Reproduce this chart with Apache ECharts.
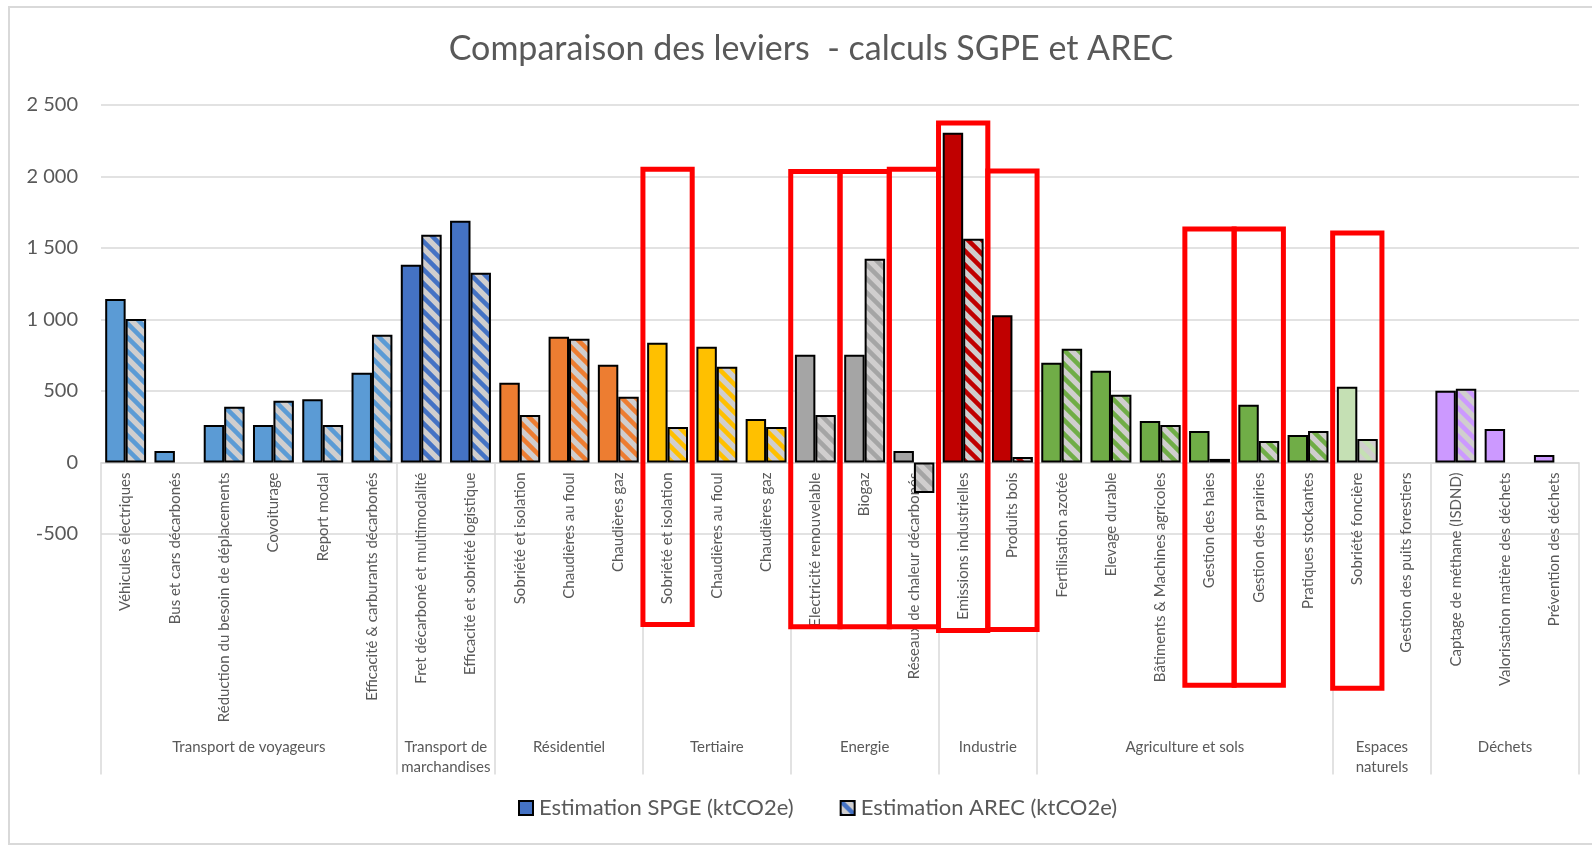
<!DOCTYPE html>
<html>
<head>
<meta charset="utf-8">
<title>Comparaison des leviers - calculs SGPE et AREC</title>
<script src="https://cdn.jsdelivr.net/npm/echarts@6/dist/echarts.min.js"></script>
<style>
  html, body { margin: 0; padding: 0; background: #fff; overflow: hidden; }
  .wrapper { position: relative; width: 1592px; height: 845px; }
  .wrapper .chart { width: 100%; height: 100%; }
  .wrapper .frame {
    position: absolute; left: 8px; top: 6px; right: 0; bottom: 0;
    border: 2px solid #d9d9d9; border-right: none; pointer-events: none;
  }
</style>
</head>
<body>
<div class="wrapper">
  <div id="chart" class="chart"></div>
  <div class="frame"></div>
</div>
<script>
// groupes (niveau 2 de l'axe) et nombre de leviers dans chaque groupe
const groupNames = ['Transport de voyageurs', 'Transport de\nmarchandises', 'Résidentiel', 'Tertiaire',
  'Energie', 'Industrie', 'Agriculture et sols', 'Espaces\nnaturels', 'Déchets'];
const groupSizes = [6, 2, 3, 3, 3, 2, 6, 2, 3];

// leviers (niveau 1 de l'axe)
const levers = [
  'Véhicules électriques', 'Bus et cars décarbonés', 'Réduction du besoin de déplacements', 'Covoiturage',
  'Report modal', 'Efficacité & carburants décarbonés',
  'Fret décarboné et multimodalité', 'Efficacité et sobriété logistique',
  'Sobriété et isolation', 'Chaudières au fioul', 'Chaudières gaz',
  'Sobriété et isolation', 'Chaudières au fioul', 'Chaudières gaz',
  'Electricité renouvelable', 'Biogaz', 'Réseaux de chaleur décarbonés',
  'Emissions industrielles', 'Produits bois',
  'Fertilisation azotée', 'Elevage durable', 'Bâtiments & Machines agricoles', 'Gestion des haies',
  'Gestion des prairies', 'Pratiques stockantes',
  'Sobriété foncière', 'Gestion des puits forestiers',
  'Captage de méthane (ISDND)', 'Valorisation matière des déchets', 'Prévention des déchets'
];

// ktCO2e
const spge = [1143, 81, 263, 263, 443, 627, 1383, 1691, 557, 879, 683, 837, 809, 305, 753, 753, 81,
  2306, 1029, 697, 641, 291, 221, 403, 193, 529, null, 501, 235, 53];
const arec = [1003, null, 389, 431, 263, 893, 1593, 1327, 333, 865, 459, 249, 669, 249, 333, 1425, -213,
  1565, 39, 795, 473, 263, 25, 151, 221, 165, null, 515, null, null];

// cadres rouges : index du levier, haut et bas du cadre (en ktCO2e)
const boxLevers = [11, 14, 15, 16, 17, 18, 22, 23, 25];
const boxTop = [2050, 2035, 2035, 2050, 2374, 2038, 1633, 1633, 1605];
const boxBottom = [-1132, -1149, -1149, -1149, -1174, -1167, -1558, -1558, -1579];

const groupColors = ['#5B9BD5', '#4472C4', '#ED7D31', '#FFC000', '#A5A5A5', '#C00000', '#70AD47', '#C5E0B4', '#CC99FF'];
const textColor = '#595959';
const lineColor = '#d9d9d9';
const font = 'Lato';

// groupe de chaque levier, limites et centres des groupes
const leverGroup = [];
const groupBounds = [0];
const groupCenters = [];
groupSizes.forEach((n, g) => {
  const start = groupBounds[groupBounds.length - 1];
  for (let i = 0; i < n; i++) leverGroup.push(g);
  groupBounds.push(start + n);
  groupCenters.push(start + n / 2);
});

// motif hachuré (gris + diagonales de la couleur du groupe)
function hatch(color) {
  const s = 14;
  const c = document.createElement('canvas');
  c.width = c.height = s;
  const g = c.getContext('2d');
  g.fillStyle = '#D0CECE';
  g.fillRect(0, 0, s, s);
  g.strokeStyle = color;
  g.lineWidth = 4.5;
  for (let k = -1; k <= 1; k++) {
    g.beginPath();
    g.moveTo(k * s - 2, -2);
    g.lineTo(k * s + s + 2, s + 2);
    g.stroke();
  }
  return { image: c, repeat: 'repeat' };
}

function fmt(v) {
  return String(v).replace(/\B(?=(\d{3})+(?!\d))/g, ' ');
}

const chart = echarts.init(document.getElementById('chart'));

chart.setOption({
  animation: false,
  backgroundColor: '#fff',
  title: {
    text: 'Comparaison des leviers  - calculs SGPE et AREC',
    left: 806,
    textAlign: 'center',
    top: 27,
    textStyle: { color: textColor, fontSize: 34, fontWeight: 'normal', fontFamily: font },
  },
  legend: {
    left: 518,
    top: 797,
    padding: 0,
    icon: 'rect',
    itemWidth: 14,
    itemHeight: 14,
    itemGap: 46,
    textStyle: { color: textColor, fontSize: 22, fontFamily: font, padding: [0, 0, 0, 1] },
  },
  grid: {
    left: 101,
    right: 13,
    top: 105,
    bottom: 311,
    outerBoundsMode: 'none',
  },
  xAxis: [
    {
      type: 'category',
      data: levers,
      axisLine: { onZero: false, lineStyle: { color: lineColor, width: 1.5 } },
      axisTick: { show: false },
      splitLine: { show: false },
      axisLabel: {
        interval: 0,
        rotate: 90,
        margin: 10,
        color: textColor,
        fontSize: 15,
        fontFamily: font,
      },
    },
    {
      // niveau des groupes
      type: 'value',
      min: 0,
      max: groupBounds[groupBounds.length - 1],
      position: 'bottom',
      axisLine: { show: false, onZero: false },
      splitLine: { show: false },
      axisTick: {
        show: true,
        customValues: groupBounds,
        length: 312,
        lineStyle: { color: lineColor, width: 1.5 },
      },
      axisLabel: {
        customValues: groupCenters,
        formatter: (v) => groupNames[groupCenters.indexOf(v)] || '',
        margin: 275,
        color: textColor,
        fontSize: 15,
        lineHeight: 20,
        fontFamily: font,
      },
    },
  ],
  yAxis: {
    type: 'value',
    min: -500,
    max: 2500,
    interval: 500,
    axisLine: { show: false, onZero: false },
    axisTick: { show: false },
    splitLine: { lineStyle: { color: lineColor, width: 1.5 } },
    axisLabel: { formatter: fmt, color: textColor, fontSize: 20, margin: 23, fontFamily: font },
  },
  series: [
    {
      name: 'Estimation SPGE (ktCO2e)',
      type: 'bar',
      barGap: '0%',
      barCategoryGap: '17%',
      itemStyle: { color: '#4472C4', borderColor: '#000', borderWidth: 2 },
      data: spge.map((v, i) => ({ value: v, itemStyle: { color: groupColors[leverGroup[i]] } })),
    },
    {
      name: 'Estimation AREC (ktCO2e)',
      type: 'bar',
      barGap: '0%',
      barCategoryGap: '17%',
      itemStyle: { color: hatch('#4472C4'), borderColor: '#000', borderWidth: 2 },
      data: arec.map((v, i) => ({ value: v, itemStyle: { color: hatch(groupColors[leverGroup[i]]) } })),
    },
  ],
});

// les deux niveaux de l'axe des catégories sont placés sur la ligne du zéro
const finder = { xAxisIndex: 0, yAxisIndex: 0 };
const zeroY = chart.convertToPixel({ yAxisIndex: 0 }, 0);
const bottomY = chart.convertToPixel({ yAxisIndex: 0 }, -500);
const shift = zeroY - bottomY;

// cadres rouges autour des leviers sélectionnés
const half = (chart.convertToPixel(finder, [1, 0])[0] - chart.convertToPixel(finder, [0, 0])[0]) / 2;
const boxes = boxLevers.map((idx, k) => {
  const top = chart.convertToPixel(finder, [idx, boxTop[k]]);
  const bottom = chart.convertToPixel(finder, [idx, boxBottom[k]]);
  return {
    type: 'rect',
    z: 100,
    shape: { x: top[0] - half, y: top[1], width: half * 2, height: bottom[1] - top[1] },
    style: { fill: null, stroke: '#FF0000', lineWidth: 5 },
  };
});

chart.setOption({
  xAxis: [{ offset: shift }, { offset: shift }],
  graphic: boxes,
});
</script>
</body>
</html>
